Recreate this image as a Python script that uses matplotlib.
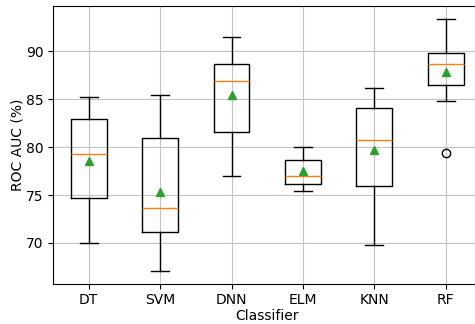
import matplotlib
matplotlib.use('Agg')
import matplotlib.pyplot as plt

# Per-classifier box statistics (ROC AUC, %)
classifiers = ['DT', 'SVM', 'DNN', 'ELM', 'KNN', 'RF']
whisker_low = [69.97, 67.07, 77.00, 75.40, 69.83, 84.81]
q1 = [74.67, 71.11, 81.60, 76.20, 75.99, 86.48]
median = [79.30, 73.69, 86.93, 77.04, 80.73, 88.71]
q3 = [82.96, 80.91, 88.71, 78.71, 84.04, 89.79]
whisker_high = [85.19, 85.47, 91.50, 79.97, 86.17, 93.41]
mean = [78.57, 75.37, 85.40, 77.53, 79.69, 87.87]
outliers = [[], [], [], [], [], [79.37]]

stats = []
for i, name in enumerate(classifiers):
    stats.append({
        'label': name,
        'whislo': whisker_low[i],
        'q1': q1[i],
        'med': median[i],
        'q3': q3[i],
        'whishi': whisker_high[i],
        'mean': mean[i],
        'fliers': outliers[i],
    })

fig = plt.figure(figsize=(4.75, 3.24), dpi=100)
ax = fig.add_axes([0.1116, 0.1244, 0.902, 0.857])

ax.bxp(stats, showmeans=True)
ax.grid(True, color='#c4c4c4')
ax.set_axisbelow(True)

ax.set_xlabel('Classifier', labelpad=1.5)
ax.set_ylabel('ROC AUC (%)', labelpad=1)

fig.savefig('out.png', dpi=100)
